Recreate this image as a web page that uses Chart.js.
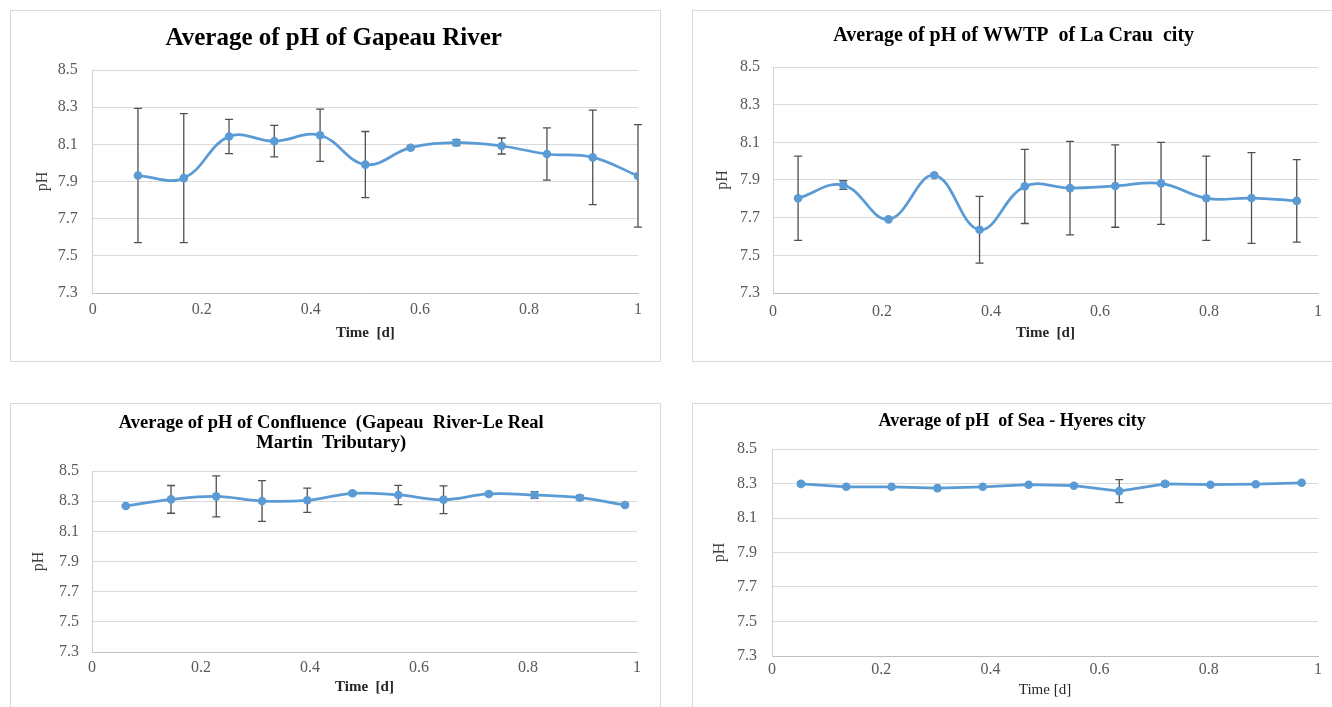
<!DOCTYPE html>
<html>
<head>
<meta charset="utf-8">
<script src="https://cdn.jsdelivr.net/npm/chart.js@4.4.0/dist/chart.umd.min.js"></script>
<style>
  html, body { margin: 0; padding: 0; background: #fff; width: 1332px; height: 707px; overflow: hidden; }
  .frame { position: absolute; border: 1px solid #d9d9d9; box-sizing: border-box; }
  canvas { position: absolute; }
</style>
</head>
<body>
<div class="frame" style="left:10px;top:10px;width:651px;height:352px"></div>
<div class="frame" style="left:692px;top:10px;width:700px;height:352px"></div>
<div class="frame" style="left:10px;top:403px;width:651px;height:400px"></div>
<div class="frame" style="left:692px;top:403px;width:700px;height:400px"></div>

<canvas id="c1" width="650" height="351" style="left:10px;top:10px"></canvas>
<canvas id="c2" width="660" height="351" style="left:692px;top:10px"></canvas>
<canvas id="c3" width="650" height="310" style="left:10px;top:403px"></canvas>
<canvas id="c4" width="660" height="310" style="left:692px;top:403px"></canvas>

<script>
/* ── Axes ── */
const X_TICKS  = [0, 0.2, 0.4, 0.6, 0.8, 1];
const X_LABELS = ["0", "0.2", "0.4", "0.6", "0.8", "1"];
const Y_TICKS  = [7.3, 7.5, 7.7, 7.9, 8.1, 8.3, 8.5];
const Y_LABELS = ["7.3", "7.5", "7.7", "7.9", "8.1", "8.3", "8.5"];

/* ── Gapeau River ── */
const GAP_TIME = [0.083, 0.167, 0.25, 0.333, 0.417, 0.5, 0.583, 0.667, 0.75, 0.833, 0.917, 1.0];
const GAP_PH   = [7.932, 7.918, 8.142, 8.117, 8.149, 7.991, 8.082, 8.109, 8.091, 8.048, 8.03, 7.93];
const GAP_ERR  = [0.361, 0.347, 0.092, 0.085, 0.141, 0.178, 0.008, 0.016, 0.043, 0.141, 0.254, 0.276];

/* ── WWTP of La Crau ── */
const WWTP_TIME = [0.046, 0.129, 0.212, 0.296, 0.379, 0.462, 0.545, 0.628, 0.712, 0.795, 0.878, 0.961];
const WWTP_PH   = [7.803, 7.873, 7.691, 7.925, 7.636, 7.866, 7.857, 7.868, 7.882, 7.803, 7.804, 7.789];
const WWTP_ERR  = [0.224, 0.023, 0, 0, 0.177, 0.197, 0.248, 0.219, 0.218, 0.224, 0.241, 0.219];

/* ── Confluence ── */
const CONF_TIME = [0.062, 0.145, 0.228, 0.312, 0.395, 0.478, 0.562, 0.645, 0.728, 0.812, 0.895, 0.978];
const CONF_PH   = [8.268, 8.312, 8.332, 8.301, 8.306, 8.352, 8.341, 8.31, 8.348, 8.341, 8.323, 8.275];
const CONF_ERR  = [0.008, 0.092, 0.136, 0.135, 0.08, 0.01, 0.064, 0.092, 0.01, 0.022, 0.015, 0.01];

/* ── Sea, Hyeres ── */
const SEA_TIME = [0.053, 0.136, 0.219, 0.303, 0.386, 0.47, 0.553, 0.636, 0.72, 0.803, 0.886, 0.97];
const SEA_PH   = [8.298, 8.281, 8.281, 8.273, 8.281, 8.293, 8.287, 8.256, 8.298, 8.293, 8.296, 8.304];
const SEA_ERR  = [0.01, 0, 0, 0, 0, 0, 0, 0.067, 0.012, 0, 0, 0];

const BLUE  = "#5B9BD5";
const SERIF = "'Liberation Serif', 'Times New Roman', serif";

/* ── Error bars ── */
const errorBars = {
  id: "errorBars",
  beforeDatasetsDraw(chart) {
    const { ctx, scales: { x, y } } = chart;
    const ds = chart.data.datasets[0];
    ctx.save();
    ctx.strokeStyle = "#505050";
    ctx.lineWidth = 1.3;
    ds.data.forEach((p, i) => {
      const e = ds.errors[i];
      if (!e) return;
      const px = x.getPixelForValue(p.x);
      const top = y.getPixelForValue(p.y + e);
      const bot = y.getPixelForValue(p.y - e);
      ctx.beginPath();
      ctx.moveTo(px, top); ctx.lineTo(px, bot);
      ctx.moveTo(px - 4, top); ctx.lineTo(px + 4, top);
      ctx.moveTo(px - 4, bot); ctx.lineTo(px + 4, bot);
      ctx.stroke();
    });
    ctx.restore();
  }
};

function makePanel(id, times, ph, err, o) {
  new Chart(document.getElementById(id), {
    type: "line",
    data: {
      datasets: [{
        data: times.map((t, i) => ({ x: t, y: ph[i] })),
        errors: err,
        borderColor: BLUE,
        backgroundColor: BLUE,
        borderWidth: 2.75,
        pointRadius: 4.3,
        pointBorderWidth: 0,
        tension: o.tension,
        fill: false,
      }]
    },
    options: {
      responsive: false,
      animation: false,
      layout: { padding: o.pad },
      plugins: {
        legend: { display: false },
        tooltip: { enabled: false },
        title: {
          display: true,
          text: o.title,
          color: "#000",
          font: { family: SERIF, size: o.titleSize, weight: "bold", lineHeight: o.titleLh || 1.2 },
          padding: o.titlePad,
        },
      },
      scales: {
        x: {
          type: "linear",
          min: 0, max: 1,
          afterBuildTicks: s => { s.ticks = X_TICKS.map(v => ({ value: v })); },
          afterFit: s => { s.height = o.xh; },
          grid: { display: false, drawTicks: false },
          border: { display: true, color: "#bfbfbf", width: 1 },
          ticks: {
            callback: (v, i) => X_LABELS[i],
            font: { family: SERIF, size: 16 },
            color: "#595959",
            padding: o.xTickPad,
            maxRotation: 0,
          },
          title: {
            display: true,
            text: o.xTitle,
            color: "#262626",
            font: { family: SERIF, size: 15, weight: o.xBold ? "bold" : "normal" },
            padding: { top: 4, bottom: 4 },
          },
        },
        y: {
          type: "linear",
          min: 7.3, max: 8.5,
          afterBuildTicks: s => { s.ticks = Y_TICKS.map(v => ({ value: v })); },
          afterFit: s => { s.width = o.yw; },
          grid: { color: "#d9d9d9", lineWidth: 1, drawTicks: false },
          border: { display: true, color: "#d0d0d0", width: 1 },
          ticks: {
            callback: (v, i) => Y_LABELS[i],
            font: { family: SERIF, size: 16 },
            color: "#595959",
            padding: o.yTickPad,
          },
          title: {
            display: true,
            text: "pH",
            color: "#404040",
            font: { family: SERIF, size: 16 },
            padding: { top: 4, bottom: 4 },
          },
        },
      },
    },
    plugins: [errorBars],
  });
}

makePanel("c1", GAP_TIME, GAP_PH, GAP_ERR, {
  title: "Average of pH of Gapeau River", titleSize: 25,
  titlePad: { top: 13.5, bottom: 16.5 },
  pad: { left: 19.4, right: 22, top: 0, bottom: 15 },
  yw: 63.3, xh: 53, xTickPad: 7.4, yTickPad: 15,
  xTitle: "Time  [d]", xBold: true, tension: 0.4,
});

makePanel("c2", WWTP_TIME, WWTP_PH, WWTP_ERR, {
  title: "Average of pH of WWTP  of La Crau  city", titleSize: 20,
  titlePad: { top: 13.5, bottom: 19.5 },
  pad: { left: 17.4, right: 34, top: 0, bottom: 15 },
  yw: 63.6, xh: 53, xTickPad: 9, yTickPad: 13,
  xTitle: "Time  [d]", xBold: true, tension: 0.4,
});

makePanel("c3", CONF_TIME, CONF_PH, CONF_ERR, {
  title: ["Average of pH of Confluence  (Gapeau  River-Le Real", "Martin  Tributary)"],
  titleSize: 18.5, titleLh: "20px",
  titlePad: { top: 10, bottom: 18 },
  pad: { left: 15.4, right: 23, top: 0, bottom: 13.3 },
  yw: 66.6, xh: 47.7, xTickPad: 6.4, yTickPad: 13,
  xTitle: "Time  [d]", xBold: true, tension: 0.4,
});

makePanel("c4", SEA_TIME, SEA_PH, SEA_ERR, {
  title: "Average of pH  of Sea - Hyeres city", titleSize: 18,
  titlePad: { top: 8, bottom: 16.4 },
  pad: { left: 14.4, right: 34, top: 0, bottom: 10 },
  yw: 65.6, xh: 47, xTickPad: 4.4, yTickPad: 15,
  xTitle: "Time [d]", xBold: false, tension: 0,
});
</script>
</body>
</html>
